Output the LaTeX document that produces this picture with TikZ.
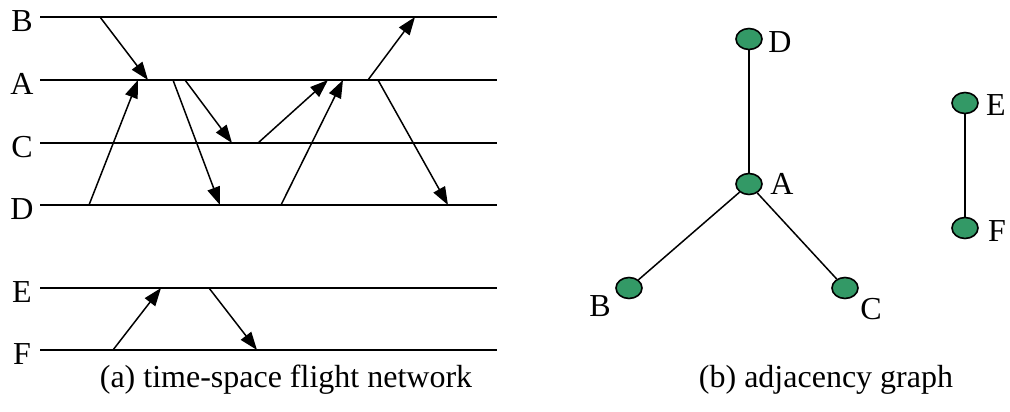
\documentclass[tikz,border=0pt]{standalone}
\usepackage{fontspec}
\setmainfont{Liberation Serif}
\usetikzlibrary{arrows.meta,shapes.geometric}
\definecolor{nodegreen}{RGB}{51,153,102}
\begin{document}
\begin{tikzpicture}[x=1pt,y=-1pt,
  every node/.style={font=\fontsize{32}{36}\selectfont},
  track/.style={line width=1.5pt},
  flight/.style={line width=1.5pt,-{Triangle[length=18pt,width=13pt]}},
  vertex/.style={ellipse,draw=black,line width=1.6pt,fill=nodegreen,minimum width=26pt,minimum height=21pt,inner sep=0pt},
  edge/.style={line width=1.5pt},
  lbl/.style={inner sep=0pt}]
\useasboundingbox (0,0) rectangle (1010,412);
% tracks
\foreach \n/\y in {B/17,A/80,C/143,D/205,E/288,F/350}{
  \coordinate (\n l) at (40,\y);
  \coordinate (\n r) at (497,\y);
  \draw[track] (\n l) -- (\n r);
  \node[lbl] (lab\n) at (22,\y+4) {\n};
}
% flight end points
\coordinate (p1) at (100,17);  \coordinate (q1) at (148,80);
\coordinate (p2) at (89,205);  \coordinate (q2) at (138,80);
\coordinate (p3) at (173,80);  \coordinate (q3) at (220,205);
\coordinate (p4) at (185,80);  \coordinate (q4) at (232,143);
\coordinate (p5) at (258,143); \coordinate (q5) at (328,80);
\coordinate (p6) at (281,205); \coordinate (q6) at (343,80);
\coordinate (p7) at (368,80);  \coordinate (q7) at (415,17);
\coordinate (p8) at (378,80);  \coordinate (q8) at (448,205);
\coordinate (p9) at (113,350); \coordinate (q9) at (161,288);
\coordinate (p10) at (209,288); \coordinate (q10) at (257,350);
\foreach \i in {1,...,10}{ \draw[flight] (p\i) -- (q\i); }
\node (capa) at (286,380) {(a) time-space flight network};
% graph
\node[vertex] (gD) at (749,39) {};
\node[vertex] (gA) at (749,184) {};
\node[vertex] (gB) at (629,288) {};
\node[vertex] (gC) at (845,288) {};
\node[vertex] (gE) at (965,103) {};
\node[vertex] (gF) at (965,228) {};
\node[lbl] (tD) at (780,42) {D};
\node[lbl] (tA) at (782,184) {A};
\node[lbl] (tB) at (600,306) {B};
\node[lbl] (tC) at (871,309) {C};
\node[lbl] (tE) at (996,105) {E};
\node[lbl] (tF) at (997,231) {F};
\draw[edge] (gD) -- (gA);
\draw[edge] (gA) -- (gB);
\draw[edge] (gA) -- (gC);
\draw[edge] (gE) -- (gF);
\node (capb) at (826,380) {(b) adjacency graph};
\end{tikzpicture}
\end{document}
